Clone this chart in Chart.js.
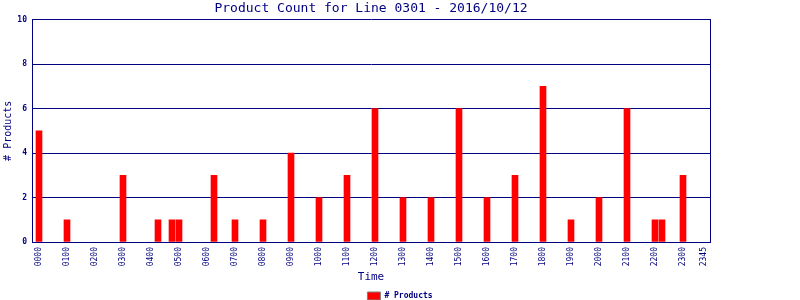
<!DOCTYPE html>
<html>
<head>
<meta charset="utf-8">
<script src="https://cdn.jsdelivr.net/npm/chart.js@4"></script>
<style>
  html, body { margin: 0; padding: 0; background: #ffffff; }
  #wrap { width: 800px; height: 300px; }
</style>
</head>
<body>
<div id="wrap"><canvas id="c" width="800" height="300"></canvas></div>
<script>
// ---- data ----
const chartTitle = 'Product Count for Line 0301 - 2016/10/12';
const seriesName = '# Products';
const times  = ['0000','0100','0300','0415','0445','0500','0615','0700','0800','0900','1000','1100','1200','1300','1400','1500','1600','1700','1800','1900','2000','2100','2200','2215','2300'];
const counts = [5,1,3,1,1,1,3,1,1,4,2,3,6,2,2,6,2,3,7,1,2,6,1,1,3];
const tickLabels = ['0000','0100','0200','0300','0400','0500','0600','0700','0800','0900','1000','1100','1200','1300','1400','1500','1600','1700','1800','1900','2000','2100','2200','2300','2345'];
const yTicks = [0, 2, 4, 6, 8, 10];

// 15-minute slot index of an hhmm string
function slotOf(t) { return parseInt(t.slice(0, 2), 10) * 4 + parseInt(t.slice(2), 10) / 15; }
const slotLabel = {};
tickLabels.forEach(t => { slotLabel[slotOf(t)] = t; });

const NAVY = '#000080';
const mono = 'DejaVu Sans Mono';

new Chart(document.getElementById('c'), {
  type: 'bar',
  data: {
    datasets: [{
      label: seriesName,
      data: times.map((t, i) => ({ x: slotOf(t), y: counts[i] })),
      backgroundColor: '#ff0000',
      borderWidth: 0,
      barThickness: 6
    }]
  },
  options: {
    responsive: false,
    animation: false,
    devicePixelRatio: 1,
    layout: { padding: { left: 0, right: 0, top: 0, bottom: -10 } },
    plugins: {
      title: {
        display: true,
        text: chartTitle,
        color: NAVY,
        fullSize: false,
        font: { family: mono, size: 13, weight: 'normal', lineHeight: 1.2 },
        padding: { top: 1, bottom: 3 }
      },
      legend: {
        display: true,
        position: 'bottom',
        labels: {
          color: NAVY,
          font: { family: mono, size: 8, weight: 'bold' },
          boxWidth: 13,
          boxHeight: 8,
          padding: 2,
          generateLabels: (chart) => [{
            text: seriesName,
            fillStyle: '#ff0000',
            strokeStyle: '#808080',
            lineWidth: 1,
            fontColor: NAVY,
            datasetIndex: 0
          }]
        }
      },
      tooltip: { enabled: false }
    },
    scales: {
      x: {
        type: 'linear',
        min: -1,
        max: 96 - 1 / 7,
        offset: false,
        grid: { display: false, drawTicks: false },
        border: { display: true, color: NAVY, width: 1 },
        afterBuildTicks: (s) => { s.ticks = tickLabels.map(t => ({ value: slotOf(t) })); },
        ticks: {
          autoSkip: false,
          minRotation: 90,
          maxRotation: 90,
          padding: 5,
          color: NAVY,
          font: { family: mono, size: 8 },
          callback: (v) => slotLabel[v] !== undefined ? slotLabel[v] : ''
        },
        title: {
          display: true,
          text: 'Time',
          color: NAVY,
          font: { family: mono, size: 11 },
          padding: { top: 0, bottom: 6 }
        },
        afterFit: (s) => { s.height = 48; }
      },
      y: {
        min: 0,
        max: 10,
        afterBuildTicks: (s) => { s.ticks = yTicks.map(v => ({ value: v })); },
        grid: { color: NAVY, lineWidth: 1, drawTicks: false },
        border: { display: true, color: NAVY, width: 1 },
        ticks: {
          padding: 5,
          color: NAVY,
          font: { family: mono, size: 8, weight: 'bold' }
        },
        title: {
          display: true,
          text: seriesName,
          color: NAVY,
          font: { family: mono, size: 10 },
          padding: { top: 2, bottom: 0 }
        },
        afterFit: (s) => { s.width = 32; }
      },
      y2: {
        position: 'right',
        min: 0,
        max: 10,
        grid: { display: false, drawTicks: false },
        border: { display: true, color: NAVY, width: 1 },
        ticks: { display: false },
        afterFit: (s) => { s.width = 90; }
      }
    }
  }
});
</script>
</body>
</html>
